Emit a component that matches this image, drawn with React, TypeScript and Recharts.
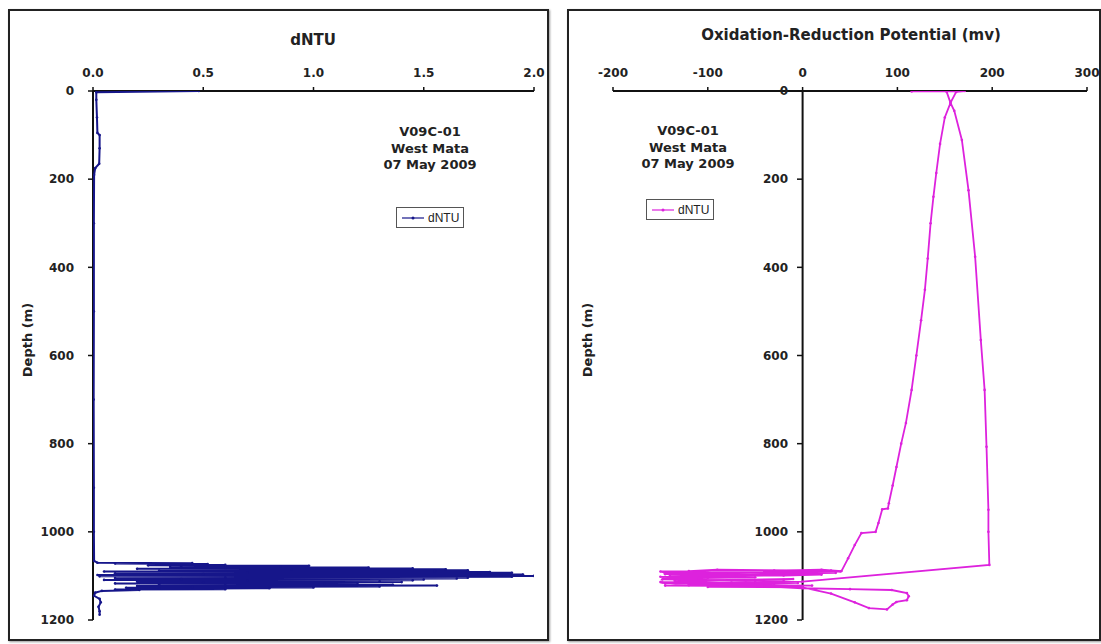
import { ScatterChart, Scatter, XAxis, YAxis, ReferenceLine } from 'recharts';

// turbidity profile (depth m, dNTU) in cast order
const ntuDepth = [
  0, 3, 20, 60, 95, 100, 130, 165, 175, 190, 300, 500, 700, 900, 1000, 1066,
  1070, 1071, 1072, 1073, 1074, 1075, 1076, 1077, 1078, 1079, 1080, 1081, 1082, 1083, 1084,
  1085, 1086, 1087, 1088, 1089, 1090, 1091, 1092, 1093, 1094, 1095, 1096, 1097, 1098, 1099,
  1100, 1101, 1102, 1103, 1104, 1105, 1106, 1107, 1108, 1109, 1110, 1111, 1112, 1113, 1114,
  1115, 1116, 1117, 1118, 1119, 1120, 1121, 1122, 1123, 1124, 1125, 1126, 1127, 1128, 1129,
  1130, 1131, 1132, 1134, 1138, 1145, 1152, 1160, 1170, 1180, 1188,
];
const ntuValue = [
  0.48, 0.015, 0.015, 0.018, 0.02, 0.03, 0.03, 0.028, 0.01, 0.005, 0.004, 0.004, 0.003, 0.004, 0.004, 0.005,
  0.02, 0.45, 0.1, 0.52, 0.3, 0.6, 0.25, 0.98, 0.4, 0.85, 0.35, 1.25, 0.6, 1.45, 0.2,
  1.6, 0.9, 1.7, 0.3, 1.55, 0.05, 1.8, 0.7, 1.9, 0.1, 1.75, 0.5, 1.95, 0.02, 1.85,
  2.0, 0.03, 1.9, 0.6, 1.7, 0.1, 1.65, 0.4, 1.5, 0.05, 1.45, 0.7, 1.3, 0.2, 1.4,
  0.5, 1.2, 0.1, 1.05, 0.3, 1.36, 0.6, 1.56, 0.2, 1.3, 0.45, 1.0, 0.15, 0.8, 0.3,
  0.6, 0.1, 0.21, 0.04, 0.01, 0.005, 0.03, 0.035, 0.025, 0.03, 0.03,
];

// ORP profile (depth m, mV) in cast order
const orpDepth = [
  1, 0, 2, 27, 60, 120, 186, 240, 300, 380, 451, 520, 600, 678, 753, 800, 853, 895, 935, 947, 949, 980, 1000, 1003,
  1030, 1060, 1089, 1086, 1088, 1088, 1086, 1089, 1090, 1092, 1090, 1093, 1091, 1095, 1096, 1098, 1094, 1093, 1100,
  1097, 1099, 1102, 1105, 1104, 1103, 1106, 1108, 1110, 1109, 1107, 1111, 1113, 1115, 1117, 1114, 1116, 1120, 1118,
  1119, 1122, 1122, 1123, 1125, 1126, 1140, 1160, 1173, 1176, 1165, 1159, 1155, 1146, 1139, 1132, 1130, 1128,
  1124, 1121, 1115, 1114, 1113, 1075, 1000, 950, 807, 678, 565, 376, 225, 111, 45, 27, 2,
];
const orpValue = [
  115, 171, 162, 156, 150, 145, 141, 138, 135, 132, 129, 125, 120, 115, 109, 104, 99, 95, 91, 90, 84, 80, 77, 62,
  55, 48, 41, 20, -30, 30, -90, -120, -150, -146, 40, -100, -40, -80, -145, -70, 0, 35, -140,
  20, -20, -150, -110, -100, -50, -147, -148, -60, -20, -10, -135, -130, -75, -145, -150, -5, -90, -30,
  -120, 10, -145, -40, -100, 0, 30, 55, 70, 89, 95, 99, 110, 112, 110, 94, 50, 0,
  -40, -120, -148, -50, 0, 197, 196, 196, 194, 192, 188, 182, 175, 168, 160, 156, 152,
];

const ntuTicks = [0, 0.5, 1, 1.5, 2];
const orpTicks = [-200, -100, 0, 100, 200, 300];
const depthTicks = [0, 200, 400, 600, 800, 1000, 1200];
const stationLines = ['V09C-01', 'West Mata', '07 May 2009'];
const legendName = 'dNTU';

const ntuData = ntuDepth.map((d, i) => ({ x: ntuValue[i], y: d }));
const orpData = orpDepth.map((d, i) => ({ x: orpValue[i], y: d }));

const FONT = '"DejaVu Sans", Verdana, sans-serif';
const NAVY = '#16168a';
const MAGENTA = '#dd22dd';
const tickStyle = { fill: '#222', fontSize: 12, fontWeight: 'bold', fontFamily: FONT };

const dot = (color: string) => (p: any) => <circle cx={p.cx} cy={p.cy} r={1.3} fill={color} />;

// right chart geometry, used to put the depth axis at 0 mV
const ORP_W = 530;
const ORP_M = { top: 50, right: 12, bottom: 19, left: 43 };
const ORP_MIN = -200;
const ORP_MAX = 300;
const zeroX = ORP_M.left + ((0 - ORP_MIN) / (ORP_MAX - ORP_MIN)) * (ORP_W - ORP_M.left - ORP_M.right);

const renderDepthTick = (props: any) => {
  const { y, payload } = props;
  return (
    <g key={`dt-${payload.value}`}>
      <line x1={zeroX - 5} x2={zeroX} y1={y} y2={y} stroke="#111" strokeWidth={1.5} />
      <text x={zeroX - 14} y={y} dy="0.36em" textAnchor="end" {...tickStyle}>
        {payload.value}
      </text>
    </g>
  );
};

const panelStyle = (left: number, width: number): any => ({
  position: 'absolute',
  left,
  top: 9,
  width,
  height: 632,
  border: '2px solid #222',
  boxSizing: 'border-box',
  boxShadow: '1px 1px 2px #999',
  background: '#fff',
});

function Station({ cx, top }: { cx: number; top: number }) {
  return (
    <div
      style={{
        position: 'absolute', left: cx - 70, top, width: 140, textAlign: 'center',
        fontFamily: FONT, fontWeight: 'bold', fontSize: 13, lineHeight: '16.5px', color: '#222',
      }}
    >
      {stationLines.map((t) => (
        <div key={t}>{t}</div>
      ))}
    </div>
  );
}

function LegendBox({ left, top, color }: { left: number; top: number; color: string }) {
  return (
    <div
      style={{
        position: 'absolute', left, top, width: 68, height: 21, border: '1px solid #555',
        boxSizing: 'border-box', display: 'flex', alignItems: 'center', gap: 4, paddingLeft: 5,
        fontFamily: '"Liberation Sans", Arial, sans-serif', fontSize: 12, color: '#222', background: '#fff',
      }}
    >
      <svg width={22} height={8}>
        <line x1={0} x2={22} y1={4} y2={4} stroke={color} strokeWidth={1.2} />
        <circle cx={11} cy={4} r={1.5} fill={color} />
      </svg>
      <span>{legendName}</span>
    </div>
  );
}

const titleStyle = (cx: number, top: number): any => ({
  position: 'absolute', left: cx - 200, top, width: 400, textAlign: 'center',
  fontFamily: FONT, fontWeight: 'bold', fontSize: 15, color: '#222',
});

const depthLabelStyle = (cx: number, cy: number): any => ({
  position: 'absolute', left: cx - 60, top: cy - 10, width: 120, height: 20, textAlign: 'center',
  transform: 'rotate(-90deg)', fontFamily: FONT, fontWeight: 'bold', fontSize: 13, color: '#222',
});

export default function App() {
  return (
    <div style={{ position: 'absolute', left: 0, top: 0, width: 1101, height: 644, overflow: 'hidden', background: '#fff' }}>
      <div style={panelStyle(8, 541)}>
        <ScatterChart width={537} height={628} margin={{ top: 50, right: 13, bottom: 19, left: 38 }}>
          <XAxis
            type="number"
            dataKey="x"
            orientation="top"
            domain={[0, 2]}
            ticks={ntuTicks}
            tickFormatter={(v: number) => v.toFixed(1)}
            height={30}
            axisLine={{ stroke: '#111', strokeWidth: 2 }}
            tickLine={{ stroke: '#111', strokeWidth: 1.5 }}
            tickSize={4}
            tickMargin={10}
            tick={tickStyle}
            allowDataOverflow
          />
          <YAxis
            type="number"
            dataKey="y"
            reversed
            domain={[0, 1200]}
            ticks={depthTicks}
            width={45}
            axisLine={{ stroke: '#111', strokeWidth: 2 }}
            tickLine={{ stroke: '#111', strokeWidth: 1.5 }}
            tickSize={5}
            tickMargin={14}
            tick={tickStyle}
            allowDataOverflow
          />
          <Scatter
            data={ntuData}
            line={{ stroke: NAVY, strokeWidth: 2 }}
            lineType="joint"
            shape={dot(NAVY)}
            isAnimationActive={false}
          />
        </ScatterChart>
      </div>

      <div style={panelStyle(567, 534)}>
        <ScatterChart width={ORP_W} height={628} margin={ORP_M}>
          <XAxis
            type="number"
            dataKey="x"
            orientation="top"
            domain={[ORP_MIN, ORP_MAX]}
            ticks={orpTicks}
            height={30}
            axisLine={{ stroke: '#111', strokeWidth: 2 }}
            tickLine={{ stroke: '#111', strokeWidth: 1.5 }}
            tickSize={4}
            tickMargin={10}
            tick={tickStyle}
            allowDataOverflow
          />
          <YAxis
            type="number"
            dataKey="y"
            reversed
            domain={[0, 1200]}
            ticks={depthTicks}
            width={1}
            axisLine={false}
            tickLine={false}
            tick={renderDepthTick}
            allowDataOverflow
          />
          <ReferenceLine x={0} stroke="#111" strokeWidth={2} />
          <Scatter
            data={orpData}
            line={{ stroke: MAGENTA, strokeWidth: 1.8 }}
            lineType="joint"
            shape={dot(MAGENTA)}
            isAnimationActive={false}
          />
        </ScatterChart>
      </div>

      <div style={titleStyle(313, 31)}>dNTU</div>
      <div style={titleStyle(851, 26)}>Oxidation-Reduction Potential (mv)</div>
      <div style={depthLabelStyle(30, 340)}>Depth (m)</div>
      <div style={depthLabelStyle(590, 340)}>Depth (m)</div>

      <Station cx={430} top={124} />
      <Station cx={688} top={123} />
      <LegendBox left={396} top={207} color={NAVY} />
      <LegendBox left={646} top={199} color={MAGENTA} />
    </div>
  );
}
